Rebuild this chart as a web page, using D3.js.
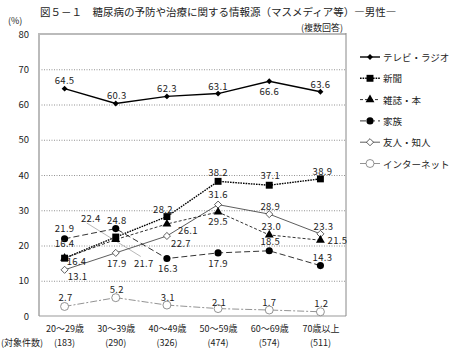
<!DOCTYPE html>
<html>
<head>
<meta charset="utf-8">
<script src="https://cdn.jsdelivr.net/npm/d3@7"></script>
<style>
  body { margin: 0; background: #fff; }
  svg text { font-family: "Noto Sans CJK JP", "Noto Sans", sans-serif; fill: #222; }
</style>
</head>
<body>
<svg id="viz" width="450" height="354"></svg>
<script>
// data
var ageGroups = ["20～29歳", "30～39歳", "40～49歳", "50～59歳", "60～69歳", "70歳以上"];
var counts = ["(183)", "(290)", "(326)", "(474)", "(574)", "(511)"];
var yTicks = [0, 10, 20, 30, 40, 50, 60, 70, 80];

var tvRadio  = [64.5, 60.3, 62.3, 63.1, 66.6, 63.6];
var newspaper = [16.4, 22.4, 28.2, 38.2, 37.1, 38.9];
var magazine = [16.4, 21.7, 26.1, 29.5, 23.0, 21.5];
var family   = [21.9, 24.8, 16.3, 17.9, 18.5, 14.3];
var friends  = [13.1, 17.9, 22.7, 31.6, 28.9, 23.3];
var internet = [2.7, 5.2, 3.1, 2.1, 1.7, 1.2];

// label nudges (pixels) so the numbers sit where the original has them
var offTv    = [[0,-9],[1,-8],[0,-8],[0,-8],[0,10],[0,-8]];
var offNews  = [[0,-15],[-25,-19],[-4,-8],[0,-9],[1,-10],[2,-8]];
var offMag   = [[12,3],[28,23],[21,6],[0,9],[2,-9],[17,0]];
var offFam   = [[0,-11],[1,-9],[1,9],[0,10],[1,-10],[2,-9]];
var offFri   = [[13,6],[1,10],[14,7],[0,-11],[1,-8],[3,-8]];
var offNet   = [[1,-9],[1,-9],[1,-8],[1,-7],[0,-8],[1,-9]];

var series = [
  {name: "テレビ・ラジオ", values: tvRadio, off: offTv, dash: null, width: 1.4, color: "#000", marker: "diamond", fill: "#000", size: 22},
  {name: "新聞", values: newspaper, off: offNews, dash: "1.6,1", width: 1.4, color: "#000", marker: "square", fill: "#000", size: 48},
  {name: "雑誌・本", values: magazine, off: offMag, dash: "3,2", width: 0.8, color: "#000", marker: "triangle", fill: "#000", size: 34},
  {name: "家族", values: family, off: offFam, dash: "6,3", width: 0.8, color: "#000", marker: "circle", fill: "#000", size: 40},
  {name: "友人・知人", values: friends, off: offFri, dash: null, width: 0.8, color: "#333", marker: "diamond", fill: "#fff", size: 32},
  {name: "インターネット", values: internet, off: offNet, dash: "7,2,2,2", width: 0.8, color: "#777", marker: "circle", fill: "#fff", size: 50}
];

var plot = {left: 39, right: 346, top: 34, bottom: 316};

var svg = d3.select("#viz");

var x = d3.scalePoint().domain(ageGroups).range([plot.left, plot.right]).padding(0.5);
var y = d3.scaleLinear().domain([0, 80]).range([plot.bottom, plot.top]);

// dotted gridlines
svg.append("g")
  .attr("transform", `translate(${plot.left},0)`)
  .call(d3.axisLeft(y).tickValues(yTicks.filter(d => d > 0 && d < 80)).tickSize(-(plot.right - plot.left)).tickFormat(""))
  .call(g => g.select(".domain").remove())
  .selectAll("line")
    .attr("stroke", "#777")
    .attr("stroke-width", 0.8)
    .attr("stroke-dasharray", "1,1.5");

// y tick labels
svg.append("g")
  .attr("transform", `translate(${plot.left - 6},0)`)
  .call(d3.axisLeft(y).tickValues(yTicks).tickSize(0).tickPadding(4))
  .call(g => g.select(".domain").remove())
  .selectAll("text")
    .style("font-size", "9.5px")
    .attr("fill", "#222");

// plot frame
svg.append("line").attr("x1", plot.left).attr("x2", plot.right).attr("y1", plot.top).attr("y2", plot.top)
  .attr("stroke", "#bbb").attr("stroke-width", 2);
svg.append("line").attr("x1", plot.left).attr("x2", plot.left).attr("y1", plot.top - 1).attr("y2", plot.bottom)
  .attr("stroke", "#bbb").attr("stroke-width", 2);
svg.append("line").attr("x1", plot.left).attr("x2", plot.right).attr("y1", plot.bottom).attr("y2", plot.bottom)
  .attr("stroke", "#999").attr("stroke-width", 1);
svg.append("line").attr("x1", plot.right).attr("x2", plot.right).attr("y1", plot.top - 1).attr("y2", plot.bottom)
  .attr("stroke", "#888").attr("stroke-width", 1);

// x labels and counts
svg.append("g")
  .attr("transform", `translate(0,${plot.bottom})`)
  .call(d3.axisBottom(x).tickSize(0).tickPadding(10))
  .call(g => g.select(".domain").remove())
  .selectAll("text")
    .style("font-size", "9px")
    .attr("fill", "#222");

svg.append("g").selectAll("text")
  .data(counts)
  .join("text")
  .attr("x", (d, i) => x(ageGroups[i]))
  .attr("y", 346)
  .attr("text-anchor", "middle")
  .style("font-size", "9px")
  .text(d => d);

svg.append("text").attr("x", 1).attr("y", 346).style("font-size", "9px").text("(対象件数)");

// titles
svg.append("text").attr("x", 40).attr("y", 16).style("font-size", "10.5px")
  .text("図５－１　糖尿病の予防や治療に関する情報源（マスメディア等）―男性―");
svg.append("text").attr("x", 8).attr("y", 24).style("font-size", "9px").text("(%)");
svg.append("text").attr("x", 343).attr("y", 31).attr("text-anchor", "end").style("font-size", "9px").text("(複数回答)");

var line = d3.line().x((d, i) => x(ageGroups[i])).y(d => y(d));

var symbolType = {
  diamond: d3.symbolDiamond2,
  square: d3.symbolSquare,
  triangle: d3.symbolTriangle,
  circle: d3.symbolCircle
};

function drawMarker(sel, s) {
  sel.attr("d", d3.symbol().type(symbolType[s.marker]).size(s.size))
    .attr("fill", s.fill)
    .attr("stroke", s.fill === "#fff" ? s.color : "none")
    .attr("stroke-width", 0.8);
}

// leader line between 22.4 / 21.7 labels in the 30s group
var gx = x(ageGroups[1]);
svg.append("line")
  .attr("x1", gx + offNews[1][0] - 4).attr("y1", y(newspaper[1]) + offNews[1][1] + 5)
  .attr("x2", gx + offMag[1][0] - 3).attr("y2", y(magazine[1]) + offMag[1][1] - 6)
  .attr("stroke", "#999").attr("stroke-width", 0.7);

// series lines, markers, labels (draw bottom of legend first so TV ends on top)
series.slice().reverse().forEach(function (s) {
  var g = svg.append("g");
  g.append("path")
    .datum(s.values)
    .attr("d", line)
    .attr("fill", "none")
    .attr("stroke", s.color)
    .attr("stroke-width", s.width)
    .attr("stroke-dasharray", s.dash);

  g.selectAll("path.mk")
    .data(s.values)
    .join("path")
    .attr("class", "mk")
    .attr("transform", (d, i) => `translate(${x(ageGroups[i])},${y(d)})`)
    .call(drawMarker, s);

  g.selectAll("text")
    .data(s.values)
    .join("text")
    .attr("x", (d, i) => x(ageGroups[i]) + s.off[i][0])
    .attr("y", (d, i) => y(d) + s.off[i][1])
    .attr("text-anchor", "middle")
    .attr("dominant-baseline", "central")
    .style("font-size", "9.5px")
    .style("letter-spacing", "0.3px")
    .text(d => d.toFixed(1));
});

// legend
var legend = svg.append("g").selectAll("g")
  .data(series)
  .join("g")
  .attr("transform", (d, i) => `translate(360,${57 + i * 21.3})`);

legend.append("line")
  .attr("x1", 0).attr("x2", 20)
  .attr("stroke", d => d.color)
  .attr("stroke-width", d => d.width)
  .attr("stroke-dasharray", d => d.dash);

legend.append("path")
  .attr("transform", "translate(10,0)")
  .each(function (d) { d3.select(this).call(drawMarker, d); });

legend.append("text")
  .attr("x", 23)
  .attr("dominant-baseline", "central")
  .style("font-size", "9.5px")
  .text(d => d.name);
</script>
</body>
</html>
